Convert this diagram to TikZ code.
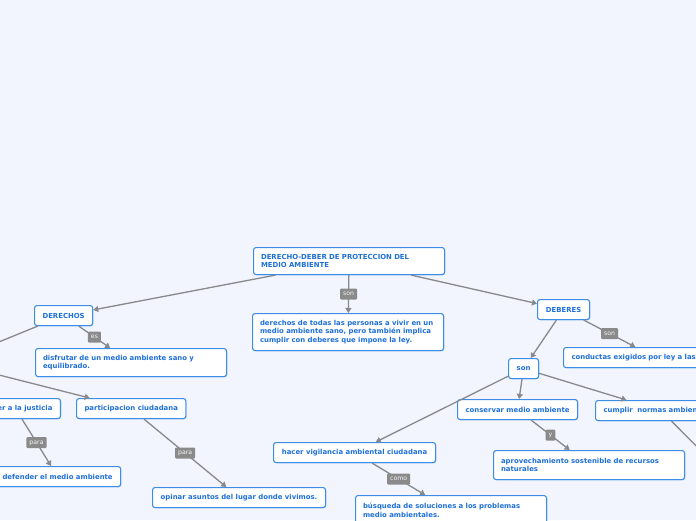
\documentclass[tikz,border=0pt]{standalone}
\usepackage{fontspec}
\setmainfont{DejaVu Sans}
\usetikzlibrary{arrows.meta,shadows}
\definecolor{bg}{HTML}{F2F5FE}
\definecolor{bd}{HTML}{3D8DE6}
\definecolor{tx}{HTML}{1E6FD9}
\definecolor{ln}{HTML}{88898D}
\definecolor{lb}{HTML}{8A8A8A}
\begin{document}
\begin{tikzpicture}[x=1pt,y=-1pt,
  box/.style={draw=bd, line width=1.1pt, fill=white, rounded corners=2.5pt,
    anchor=north west, inner xsep=8pt, inner ysep=0pt, align=left, text=tx,
    font=\fontsize{6.9}{8.7}\selectfont\bfseries,
    drop shadow={shadow xshift=0.7pt, shadow yshift=-0.7pt, opacity=0.35, fill=bd}},
  multi/.style={box, inner xsep=7.5pt, text width=176pt, minimum width=191pt},
  conn/.style={draw=ln, line width=1.3pt, -{Triangle[length=5pt,width=6pt]}},
  lab/.style={fill=lb, text=white!92!lb, rounded corners=1pt,
    font=\fontsize{6.2}{7}\selectfont, inner xsep=3pt, inner ysep=1.5pt,
    minimum height=11pt, text depth=0pt}]
\useasboundingbox (0,0) rectangle (696,520);
\clip (0,0) rectangle (696,520);
\fill[bg] (0,0) rectangle (696,520);

% nodes
\node[multi, minimum height=27pt] (root) at (253,247)
  {DERECHO-DEBER DE PROTECCION DEL\\MEDIO AMBIENTE};
\node[multi, minimum height=37pt] (todas) at (252,313)
  {\mbox{derechos de todas las personas a vivir en un}\\\mbox{medio ambiente sano, pero también implica}\\cumplir con deberes que impone la ley.};
\node[box, minimum width=58pt, minimum height=20pt] (derechos) at (34,305) {DERECHOS};
\node[multi, minimum height=28pt] (disfrutar) at (35,348)
  {disfrutar de un medio ambiente sano y\\equilibrado.};
\node[box, anchor=north east, minimum height=20pt] (justicia) at (61,398) {acceder a la justicia};
\node[box, minimum width=109pt, minimum height=20pt] (particip) at (76,398) {participacion ciudadana};
\node[box, minimum width=126pt, minimum height=20pt] (defender) at (-6,466) {defender el medio ambiente};
\node[box, minimum width=173pt, minimum height=20pt] (opinar) at (152,487) {opinar asuntos del lugar donde vivimos.};
\node[box, minimum width=52pt, minimum height=20pt] (deberes) at (537,299) {DEBERES};
\node[box, minimum width=184pt, minimum height=20pt, text width=168pt] (conductas) at (563,347) {\mbox{conductas exigidos por ley a las personas}};
\node[box, minimum width=30pt, minimum height=20pt] (son) at (508,358) {son};
\node[box, minimum width=120pt, minimum height=20pt] (conservar) at (457,399) {conservar medio ambiente};
\node[box, minimum width=131pt, minimum height=20pt, text width=115pt] (cumplir) at (595,400) {\mbox{cumplir\ \ normas ambientales}};
\node[box, minimum width=162pt, minimum height=20pt] (hacer) at (273,442) {hacer vigilancia ambiental ciudadana};
\node[multi, minimum height=29pt] (aprov) at (493,450)
  {aprovechamiento sostenible de recursos\\naturales};
\node[multi, minimum height=30pt] (busqueda) at (355,495)
  {búsqueda de soluciones a los problemas\\medio ambientales.};

% off-page ends
\coordinate (offA) at (-60,366);
\coordinate (offB) at (-60,360);
\coordinate (offR) at (720,470);

% connectors
\draw[conn] (root) -- (derechos);
\draw[conn] (root) -- node[lab]{son} (todas);
\draw[conn] (root) -- (deberes);
\draw[conn] (derechos) -- node[lab]{es} (disfrutar);
\draw[conn] (derechos) -- (offA);
\draw[conn] (offB) -- (particip);
\draw[conn] ([xshift=-39pt]justicia.south east) -- node[lab]{para} (defender);
\draw[conn] (particip) -- node[lab]{para} (opinar);
\draw[conn] (deberes) -- (son);
\draw[conn] (deberes) -- node[lab]{son} (conductas);
\draw[conn] (son) -- (hacer);
\draw[conn] (son) -- (conservar);
\draw[conn] (son) -- (cumplir);
\draw[conn] (conservar) -- node[lab]{y} (aprov);
\draw[conn] (hacer) -- node[lab]{como} (busqueda);
\draw[conn] (cumplir) -- (offR);
\end{tikzpicture}
\end{document}
